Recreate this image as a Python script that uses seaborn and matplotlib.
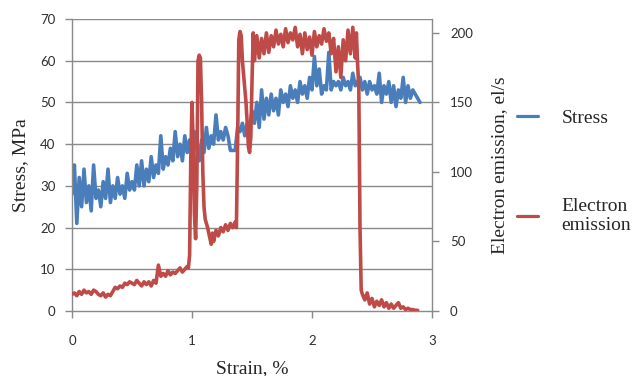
import numpy as np
import pandas as pd
import matplotlib
matplotlib.use("Agg")
import matplotlib.pyplot as plt
import seaborn as sns
from matplotlib.lines import Line2D

# ---------------- data ----------------
strain_stress = [round(0.02 * i, 2) for i in range(146)]
stress = [28, 35, 21, 32, 25, 34, 26, 30, 24, 35, 27, 29, 25, 31, 27, 34, 26, 30, 27, 32,
          28, 30, 27, 33, 29, 31, 29, 35, 30, 36, 30, 34, 31, 37, 32, 35, 33, 42, 34, 37,
          35, 39, 36, 43, 37, 40, 36, 42, 38, 41, 37, 43, 39, 36, 41, 38, 44, 39, 42, 40,
          47, 41, 43, 41, 44, 42, 38.5, 38.5, 38.5, 44, 43, 45, 42, 45, 44, 48, 45, 50, 44, 53,
          46, 51, 47, 52, 48, 51, 47, 53, 50, 52, 49, 54, 51, 53, 50, 55, 52, 54, 51, 56,
          53, 61, 54, 58, 52, 54, 53, 62, 53, 55, 54, 55, 53, 56, 54, 55, 53, 57, 54, 55,
          56, 53, 55, 52, 55, 53, 54, 52, 57, 50, 54, 52, 55, 50, 54, 49, 53, 51, 56, 50,
          54, 51, 53, 52, 51, 50]

strain_em = [0.00, 0.02, 0.04, 0.06, 0.08, 0.10, 0.12, 0.14, 0.16, 0.18, 0.20, 0.22, 0.24,
             0.26, 0.28, 0.30, 0.32, 0.34, 0.36, 0.38, 0.40, 0.42, 0.44, 0.46, 0.48, 0.50,
             0.52, 0.54, 0.56, 0.58, 0.60, 0.62, 0.64, 0.66, 0.68, 0.70, 0.72, 0.74, 0.76,
             0.78, 0.80, 0.82, 0.84, 0.86, 0.88, 0.90, 0.92, 0.94, 0.96, 0.97, 0.98, 0.99,
             1.00, 1.01, 1.02, 1.03, 1.04, 1.05, 1.06, 1.07, 1.08, 1.09, 1.10, 1.11, 1.13,
             1.15, 1.16, 1.17, 1.18, 1.20, 1.22, 1.24, 1.26, 1.28, 1.30, 1.32, 1.34, 1.36,
             1.37, 1.38, 1.39, 1.40, 1.41, 1.42, 1.43, 1.44, 1.45, 1.46, 1.47, 1.48, 1.49,
             1.50, 1.51, 1.52, 1.54, 1.56, 1.58, 1.60, 1.62, 1.64, 1.66, 1.68, 1.70, 1.72,
             1.74, 1.76, 1.78, 1.80, 1.82, 1.84, 1.86, 1.88, 1.90, 1.92, 1.94, 1.96, 1.98,
             2.00, 2.02, 2.04, 2.06, 2.08, 2.10, 2.12, 2.14, 2.16, 2.18, 2.20, 2.22, 2.24,
             2.26, 2.28, 2.30, 2.32, 2.34, 2.36, 2.37, 2.38, 2.39, 2.40, 2.41, 2.42, 2.44,
             2.46, 2.48, 2.50, 2.52, 2.54, 2.56, 2.58, 2.60, 2.62, 2.64, 2.66, 2.68, 2.70,
             2.72, 2.74, 2.76, 2.78, 2.80, 2.82, 2.84, 2.86, 2.88]
emission = [12, 13, 11, 14, 12, 15, 13, 14, 12, 15, 14, 12, 11,
            13, 10, 12, 11, 14, 17, 16, 18, 17, 20, 19, 21, 20,
            19, 22, 20, 18, 21, 19, 21, 18, 22, 20, 33, 25, 27,
            25, 29, 26, 28, 27, 29, 31, 28, 30, 32, 31, 40, 110,
            150, 120, 70, 52, 90, 180, 184, 182, 150, 100, 75, 66, 60,
            52, 48, 56, 50, 58, 54, 60, 57, 62, 58, 63, 60, 64,
            60, 120, 195, 201, 198, 180, 170, 160, 150, 135, 118, 114, 125,
            165, 200, 180, 198, 182, 196, 185, 200, 186, 198, 190, 202, 192,
            199, 190, 203, 193, 200, 195, 204, 190, 199, 185, 200, 188, 197,
            184, 201, 190, 198, 192, 203, 194, 200, 185, 196, 172, 190, 168,
            195, 180, 202, 185, 204, 182, 200, 178, 160, 60, 15, 12, 8,
            13, 5, 9, 3, 7, 4, 8, 3, 6, 2, 5, 2, 4,
            6, 2, 3, 1, 2, 1, 1, 0.5, 0.5]

x_ticks = [0, 1, 2, 3]
left_ticks = [0, 10, 20, 30, 40, 50, 60, 70]
right_ticks = [0, 50, 100, 150, 200]
series_labels = ["Stress", "Electron\nemission"]

df_s = pd.DataFrame({"strain": strain_stress, "stress": stress})
df_e = pd.DataFrame({"strain": strain_em, "emission": emission})

# ---------------- style ----------------
sns.set_style("white")
serif = ["Liberation Serif", "DejaVu Serif"]
tick_font = ["Lato", "DejaVu Sans"]
blue = "#4A7EBB"
red = "#BE4B48"
gray = "#898989"
tick_color = "#2e2e2e"

fig = plt.figure(figsize=(6.43, 3.76), dpi=100)
ax = fig.add_axes([72 / 643, 1 - 311 / 376, 360 / 643, 292 / 376])
ax2 = ax.twinx()

sns.lineplot(data=df_s, x="strain", y="stress", ax=ax, color=blue, lw=2.6,
             estimator=None, sort=False, legend=False)
sns.lineplot(data=df_e, x="strain", y="emission", ax=ax2, color=red, lw=2.6,
             estimator=None, sort=False, legend=False)

ax.set_xlim(0, 3)
ax.set_ylim(0, 70)
ax2.set_ylim(0, 210)
ax.set_xticks(x_ticks)
ax.set_yticks(left_ticks)
ax2.set_yticks(right_ticks)

for y in left_ticks[1:]:
    ax.axhline(y, color=gray, lw=1.0, zorder=0)

for a in (ax, ax2):
    for side in ("left", "right", "bottom", "top"):
        a.spines[side].set_visible(False)
ax.spines["left"].set_visible(True)
ax.spines["bottom"].set_visible(True)
ax2.spines["right"].set_visible(True)
for sp in (ax.spines["left"], ax.spines["bottom"], ax2.spines["right"]):
    sp.set_color(gray)
    sp.set_linewidth(1.0)

ax.tick_params(axis="y", direction="out", length=5, width=1, color=gray,
               pad=7, labelsize=9.5, labelcolor=tick_color, left=True)
ax.tick_params(axis="x", direction="out", length=5, width=1, color=gray,
               pad=12, labelsize=9.5, labelcolor=tick_color, bottom=True)
ax2.tick_params(axis="y", direction="out", length=5, width=1, color=gray,
                pad=8, labelsize=9.5, labelcolor=tick_color, right=True)
for lab in ax.get_xticklabels() + ax.get_yticklabels() + ax2.get_yticklabels():
    lab.set_fontfamily(tick_font)

ax.set_xlabel("Strain, %", fontsize=14, family=serif, labelpad=10)
ax.set_ylabel("Stress, MPa", fontsize=14, family=serif, labelpad=8)
ax2.set_ylabel("Electron emission, el/s", fontsize=14, family=serif, labelpad=13)

# legend (two separate entries, placed to the right)
h_stress = Line2D([], [], color=blue, lw=2.3)
h_em = Line2D([], [], color=red, lw=2.3)
for h, lab, yc in ((h_stress, series_labels[0], 118), (h_em, series_labels[1], 216)):
    fig.legend([h], [lab], loc="center left", bbox_to_anchor=(517 / 643, 1 - yc / 376),
               frameon=False, borderpad=0, borderaxespad=0, handlelength=1.1,
               handletextpad=1.2, prop={"family": serif, "size": 14})

fig.savefig("out.png", dpi=100)
